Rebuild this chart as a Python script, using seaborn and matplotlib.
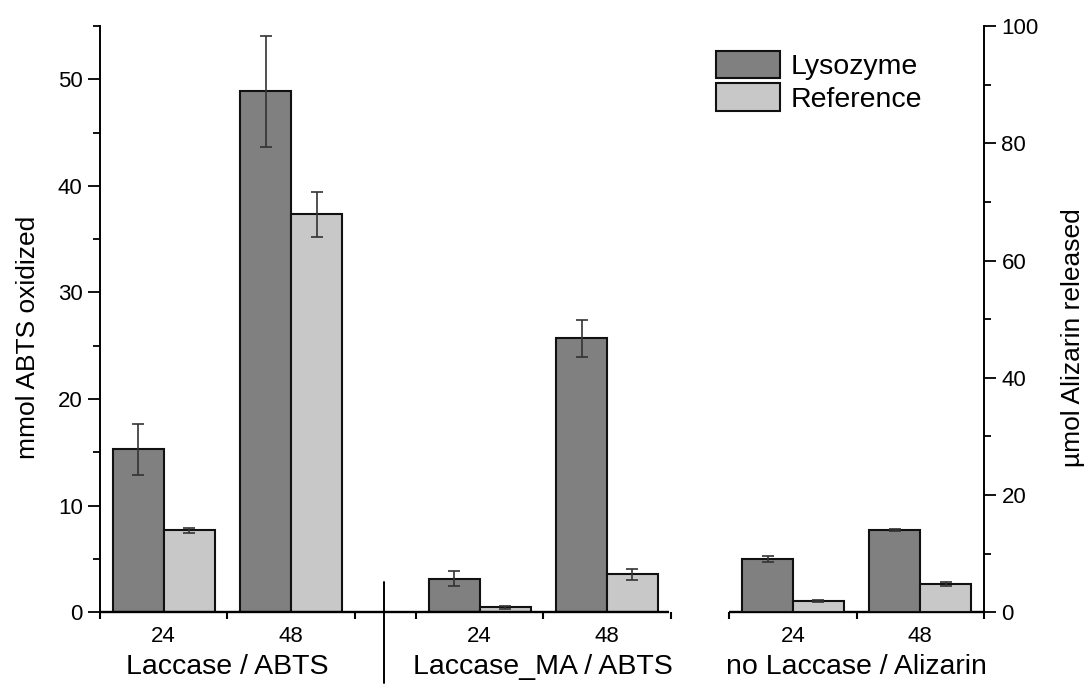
import pandas as pd
import matplotlib
matplotlib.use('Agg')
import matplotlib.pyplot as plt
import matplotlib.transforms as mtransforms
from matplotlib.patches import Patch
from matplotlib.ticker import MultipleLocator
import seaborn as sns

# values
panels = ['Laccase / ABTS', 'Laccase_MA / ABTS', 'no Laccase / Alizarin']
times = ['24', '48']
series = ['Lysozyme', 'Reference']

# mmol ABTS oxidized (left axis), panels 1 and 2, order: 24h, 48h
lyso_abts = [15.3, 48.9, 3.15, 25.7]
lyso_abts_err = [2.4, 5.2, 0.7, 1.75]
ref_abts = [7.7, 37.35, 0.45, 3.55]
ref_abts_err = [0.24, 2.1, 0.12, 0.5]

# umol Alizarin released (right axis), panel 3
lyso_aliz = [9.0, 14.0]
lyso_aliz_err = [0.5, 0.1]
ref_aliz = [1.9, 4.8]
ref_aliz_err = [0.15, 0.4]

colors = {'Lysozyme': '#808080', 'Reference': '#c8c8c8'}

# layout of the broken x axis (start of each panel, in group widths)
panel_start = [0.0, 2.48, 4.94]
x_right = 6.93


def make_frame(panel_ids, lyso, lyso_err, ref, ref_err):
    rows = []
    k = 0
    for p in panel_ids:
        for t, tm in enumerate(times):
            pos = panel_start[p] + t + 0.5
            rows.append(dict(pos=pos, series='Lysozyme', value=lyso[k], err=lyso_err[k]))
            rows.append(dict(pos=pos, series='Reference', value=ref[k], err=ref_err[k]))
            k += 1
    return pd.DataFrame(rows)


abts = make_frame([0, 1], lyso_abts, lyso_abts_err, ref_abts, ref_abts_err)
aliz = make_frame([2], lyso_aliz, lyso_aliz_err, ref_aliz, ref_aliz_err)

sns.set_theme(style='ticks')
plt.rcParams['font.family'] = ['Liberation Sans', 'DejaVu Sans']
plt.rcParams['axes.linewidth'] = 1.4
plt.rcParams['axes.edgecolor'] = 'black'
plt.rcParams['text.color'] = 'black'
plt.rcParams['axes.labelcolor'] = 'black'
plt.rcParams['xtick.color'] = 'black'
plt.rcParams['ytick.color'] = 'black'

fig = plt.figure(figsize=(10.87, 6.87), dpi=100)
ax = fig.add_axes([0.092, 0.109, 0.8133, 0.853])
ax2 = ax.twinx()


def draw(axis, df):
    sns.barplot(data=df, x='pos', y='value', hue='series', hue_order=series,
                palette=colors, native_scale=True, errorbar=None, width=0.8,
                edgecolor='#111111', linewidth=1.5, saturation=1, legend=False, ax=axis)
    for cont, name in zip(axis.containers, series):
        sub = df[df['series'] == name].sort_values('pos')
        for bar, e in zip(cont.patches, sub['err']):
            xc = bar.get_x() + bar.get_width() / 2
            axis.errorbar(xc, bar.get_height(), yerr=e, fmt='none', ecolor='#333333',
                          elinewidth=1.2, capsize=4.3, capthick=1.2, zorder=5)


draw(ax, abts)
draw(ax2, aliz)

ax.set_xlim(0, x_right)
ax.set_ylim(0, 55)
ax2.set_ylim(0, 100)

# y axes
ax.yaxis.set_major_locator(MultipleLocator(10))
ax.yaxis.set_minor_locator(MultipleLocator(5))
ax2.yaxis.set_major_locator(MultipleLocator(20))
ax2.yaxis.set_minor_locator(MultipleLocator(10))
for a in (ax, ax2):
    a.tick_params(axis='y', which='major', direction='out', length=8.5, width=1.3,
                  labelsize=16, pad=4, colors='black')
    a.tick_params(axis='y', which='minor', direction='out', length=5, width=1.3, colors='black')
    a.set_xlabel('')

ax.set_ylabel('mmol ABTS oxidized', fontsize=19)
ax.yaxis.set_label_coords(-0.068, 0.469)
ax2.set_ylabel('\u00b5mol Alizarin released', fontsize=19)
ax2.yaxis.set_label_coords(1.087, 0.469)

for s in ('top', 'right', 'bottom'):
    ax.spines[s].set_visible(False)
for s in ('top', 'left', 'bottom'):
    ax2.spines[s].set_visible(False)

# x axis: group labels at centres, boundary ticks
centres = [panel_start[p] + t + 0.5 for p in range(3) for t in range(2)]
bounds = [panel_start[p] + t for p in range(3) for t in range(3)]
ax.set_xticks(centres)
ax.set_xticklabels(times * 3)
ax.set_xticks(bounds, minor=True)
ax.tick_params(axis='x', which='major', length=0, labelsize=16, pad=10, colors='black')
ax.tick_params(axis='x', which='minor', direction='out', length=5, width=1.5, colors='black')

ax.hlines(0, 0, panel_start[1] + 2 - 0.01, color='black', lw=1.7, clip_on=False, zorder=6)
ax.hlines(0, panel_start[2], x_right, color='black', lw=1.7, clip_on=False, zorder=6)

trans = mtransforms.blended_transform_factory(ax.transData, ax.transAxes)
ax.plot([2.23, 2.23], [0.051, -0.121], color='black', lw=1.4, transform=trans, clip_on=False)
for p, name in enumerate(panels):
    ax.text(panel_start[p] + 1, -0.094, name, transform=trans, ha='center', va='center',
            fontsize=20.5)

handles = [Patch(facecolor=colors[s], edgecolor='#111111', linewidth=1.5) for s in series]
ax2.legend(handles, series, loc='upper left', bbox_to_anchor=(0.697, 0.958), frameon=False,
           fontsize=20.5, handlelength=2.25, handleheight=1.1, handletextpad=0.35,
           labelspacing=0.12, borderpad=0, borderaxespad=0)

fig.savefig('out.png', dpi=100)
